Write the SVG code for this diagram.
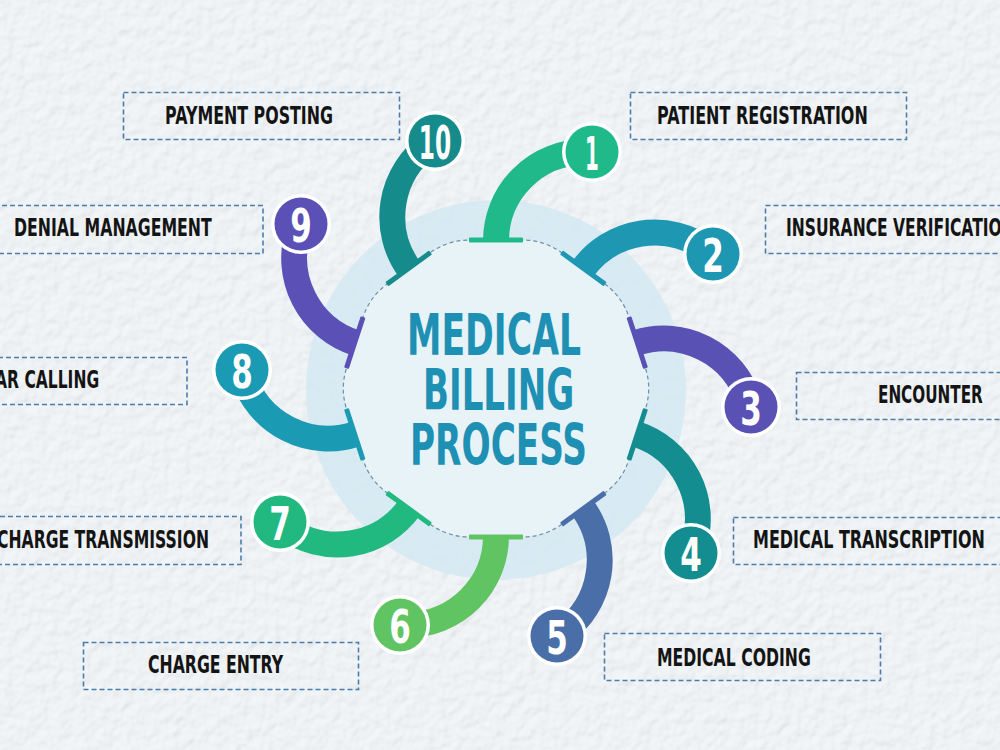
<svg xmlns="http://www.w3.org/2000/svg" xmlns:xlink="http://www.w3.org/1999/xlink" width="1000" height="750" viewBox="0 0 1000 750">
<defs>
<style>
.box{fill:none;stroke:#4d7cab;stroke-width:1.6;stroke-dasharray:5 3}
.lbl{font-family:"DejaVu Sans","Liberation Sans",sans-serif;font-weight:bold;font-size:24px;fill:#141414}
.ttl{font-family:"DejaVu Sans","Liberation Sans",sans-serif;font-weight:bold;font-size:57px;fill:#1d90b4}
.num{font-family:"DejaVu Sans","Liberation Sans",sans-serif;font-weight:bold;font-size:47px;fill:#ffffff;text-anchor:middle}
.ring{fill:#ffffff}
</style>
<filter id="tex" x="0" y="0" width="1" height="1">
<feTurbulence type="fractalNoise" baseFrequency="0.09" numOctaves="2" seed="7"/>
<feDiffuseLighting surfaceScale="1.6" lighting-color="#ffffff" diffuseConstant="1"><feDistantLight azimuth="235" elevation="68"/></feDiffuseLighting>
</filter>
<g id="arm">
<path d="M496 241 A89 89 0 0 1 585 152" fill="none" stroke-width="26"/>
<rect x="469" y="237.5" width="54" height="5" rx="1" stroke="none"/>
</g>
</defs>

<rect width="1000" height="750" fill="#e6eef3"/>
<rect width="1000" height="750" filter="url(#tex)" opacity="0.5"/>

<g id="center">
<circle cx="496" cy="390" r="190" fill="#d3e9f2" opacity="0.85"/>
<path d="M645.3 367.6 L629.1 317.6 Q622.3 296.7 604.5 283.8 L562 252.9 Q544.2 240 522.2 240 L469.8 240 Q447.8 240 430 252.9 L387.5 283.8 Q369.7 296.7 362.9 317.6 L346.7 367.6 Q339.9 388.5 346.7 409.4 L362.9 459.4 Q369.7 480.3 387.5 493.2 L430 524.1 Q447.8 537 469.8 537 L522.2 537 Q544.2 537 562 524.1 L604.5 493.2 Q622.3 480.3 629.1 459.4 L645.3 409.4 Q652.1 388.5 645.3 367.6 Z" fill="#e8f3f7" stroke="#6f8ea8" stroke-width="1.2" stroke-dasharray="4 3"/>
<text class="ttl" transform="translate(407 355) scale(0.6 1)" textLength="290" lengthAdjust="spacingAndGlyphs">MEDICAL</text>
<text class="ttl" transform="translate(423 410) scale(0.6 1)" textLength="252" lengthAdjust="spacingAndGlyphs">BILLING</text>
<text class="ttl" transform="translate(410 465) scale(0.6 1)" textLength="295" lengthAdjust="spacingAndGlyphs">PROCESS</text>
</g>

<g id="connectors">
<use xlink:href="#arm" stroke="#1fb98a" fill="#1fb98a"/>
<use xlink:href="#arm" stroke="#1e97b3" fill="#1e97b3" transform="rotate(36 496 388.5)"/>
<use xlink:href="#arm" stroke="#5a51b4" fill="#5a51b4" transform="rotate(72 496 388.5)"/>
<use xlink:href="#arm" stroke="#138d8f" fill="#138d8f" transform="rotate(108 496 388.5)"/>
<use xlink:href="#arm" stroke="#4a6fa8" fill="#4a6fa8" transform="rotate(144 496 388.5)"/>
<use xlink:href="#arm" stroke="#60c462" fill="#60c462" transform="rotate(180 496 388.5)"/>
<use xlink:href="#arm" stroke="#22b981" fill="#22b981" transform="rotate(216 496 388.5)"/>
<use xlink:href="#arm" stroke="#1b9ab3" fill="#1b9ab3" transform="rotate(252 496 388.5)"/>
<use xlink:href="#arm" stroke="#5a50b5" fill="#5a50b5" transform="rotate(288 496 388.5)"/>
<use xlink:href="#arm" stroke="#168b8c" fill="#168b8c" transform="rotate(324 496 388.5)"/>
</g>

<g id="step1">
<circle class="ring" cx="592" cy="152" r="30"/>
<circle cx="592" cy="152" r="26.5" fill="#1fb98a"/>
<text class="num" transform="translate(592 169.5) scale(0.6 1)" textLength="23" lengthAdjust="spacingAndGlyphs">1</text>
<rect class="box" x="630.5" y="92.5" width="276" height="47"/>
<text class="lbl" transform="translate(657 124) scale(0.62 1)" textLength="340" lengthAdjust="spacingAndGlyphs">PATIENT REGISTRATION</text>
</g>
<g id="step2">
<circle class="ring" cx="713" cy="254" r="30"/>
<circle cx="713" cy="254" r="26.5" fill="#1e97b3"/>
<text class="num" transform="translate(713 271.5) scale(0.6 1)" textLength="36" lengthAdjust="spacingAndGlyphs">2</text>
<rect class="box" x="765.5" y="205.5" width="280" height="48"/>
<text class="lbl" transform="translate(786 236) scale(0.62 1)" textLength="369" lengthAdjust="spacingAndGlyphs">INSURANCE VERIFICATION</text>
</g>
<g id="step3">
<circle class="ring" cx="751" cy="407" r="30"/>
<circle cx="751" cy="407" r="26.5" fill="#5a51b4"/>
<text class="num" transform="translate(751 424.5) scale(0.6 1)" textLength="36" lengthAdjust="spacingAndGlyphs">3</text>
<rect class="box" x="796.5" y="372.5" width="270" height="47"/>
<text class="lbl" transform="translate(878 403) scale(0.62 1)" textLength="169" lengthAdjust="spacingAndGlyphs">ENCOUNTER</text>
</g>
<g id="step4">
<circle class="ring" cx="691" cy="553" r="30"/>
<circle cx="691" cy="553" r="26.5" fill="#138d8f"/>
<text class="num" transform="translate(691 570.5) scale(0.6 1)" textLength="36" lengthAdjust="spacingAndGlyphs">4</text>
<rect class="box" x="733.5" y="517.5" width="280" height="47"/>
<text class="lbl" transform="translate(753 548) scale(0.62 1)" textLength="374" lengthAdjust="spacingAndGlyphs">MEDICAL TRANSCRIPTION</text>
</g>
<g id="step5">
<circle class="ring" cx="557" cy="636" r="30"/>
<circle cx="557" cy="636" r="26.5" fill="#4a6fa8"/>
<text class="num" transform="translate(557 653.5) scale(0.6 1)" textLength="36" lengthAdjust="spacingAndGlyphs">5</text>
<rect class="box" x="604.5" y="633.5" width="276" height="47"/>
<text class="lbl" transform="translate(657 666) scale(0.62 1)" textLength="248" lengthAdjust="spacingAndGlyphs">MEDICAL CODING</text>
</g>
<g id="step6">
<circle class="ring" cx="400" cy="625" r="30"/>
<circle cx="400" cy="625" r="26.5" fill="#60c462"/>
<text class="num" transform="translate(400 642.5) scale(0.6 1)" textLength="36" lengthAdjust="spacingAndGlyphs">6</text>
<rect class="box" x="83.5" y="642.5" width="275" height="47"/>
<text class="lbl" transform="translate(148 673) scale(0.62 1)" textLength="218" lengthAdjust="spacingAndGlyphs">CHARGE ENTRY</text>
</g>
<g id="step7">
<circle class="ring" cx="280" cy="522" r="30"/>
<circle cx="280" cy="522" r="26.5" fill="#22b981"/>
<text class="num" transform="translate(280 539.5) scale(0.6 1)" textLength="36" lengthAdjust="spacingAndGlyphs">7</text>
<rect class="box" x="-40" y="516.5" width="281" height="48"/>
<text class="lbl" transform="translate(-3 548) scale(0.62 1)" textLength="342" lengthAdjust="spacingAndGlyphs">CHARGE TRANSMISSION</text>
</g>
<g id="step8">
<circle class="ring" cx="242" cy="370" r="30"/>
<circle cx="242" cy="370" r="26.5" fill="#1b9ab3"/>
<text class="num" transform="translate(242 387.5) scale(0.6 1)" textLength="36" lengthAdjust="spacingAndGlyphs">8</text>
<rect class="box" x="-90" y="357.5" width="277" height="47"/>
<text class="lbl" transform="translate(-5 388) scale(0.62 1)" textLength="168" lengthAdjust="spacingAndGlyphs">AR CALLING</text>
</g>
<g id="step9">
<circle class="ring" cx="301" cy="224" r="30"/>
<circle cx="301" cy="224" r="26.5" fill="#5a50b5"/>
<text class="num" transform="translate(301 241.5) scale(0.6 1)" textLength="36" lengthAdjust="spacingAndGlyphs">9</text>
<rect class="box" x="-14" y="205.5" width="277" height="48"/>
<text class="lbl" transform="translate(14 236) scale(0.62 1)" textLength="319" lengthAdjust="spacingAndGlyphs">DENIAL MANAGEMENT</text>
</g>
<g id="step10">
<circle class="ring" cx="435" cy="141" r="30"/>
<circle cx="435" cy="141" r="26.5" fill="#168b8c"/>
<text class="num" transform="translate(435 158.5) scale(0.6 1)" textLength="54" lengthAdjust="spacingAndGlyphs">10</text>
<rect class="box" x="123.5" y="92.5" width="276" height="47"/>
<text class="lbl" transform="translate(165 124) scale(0.62 1)" textLength="271" lengthAdjust="spacingAndGlyphs">PAYMENT POSTING</text>
</g>
</svg>
